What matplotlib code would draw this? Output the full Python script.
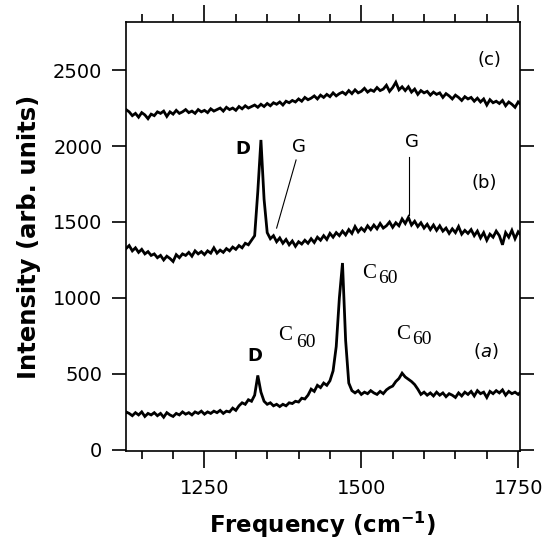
import matplotlib
matplotlib.use("Agg")
import matplotlib.pyplot as plt
import numpy as np
from matplotlib.ticker import MultipleLocator

# Raman shift grid (cm^-1), 5 cm^-1 steps
freq = np.arange(1120, 1756, 5)

# spectrum (c)
spec_c = [2235, 2240, 2225, 2200, 2215, 2190, 2220, 2205, 2180, 2210,
          2200, 2225, 2215, 2230, 2195, 2225, 2210, 2235, 2215, 2225,
          2240, 2220, 2230, 2215, 2240, 2225, 2235, 2220, 2245, 2230,
          2240, 2250, 2230, 2255, 2240, 2250, 2235, 2260, 2245, 2265,
          2250, 2260, 2270, 2255, 2275, 2260, 2280, 2265, 2285, 2275,
          2290, 2270, 2295, 2285, 2300, 2290, 2310, 2295, 2320, 2305,
          2315, 2330, 2310, 2335, 2320, 2340, 2325, 2350, 2330, 2345,
          2355, 2340, 2365, 2345, 2370, 2350, 2360, 2380, 2355, 2370,
          2360, 2385, 2365, 2375, 2400, 2360, 2385, 2420, 2370, 2390,
          2365, 2390, 2355, 2375, 2340, 2365, 2350, 2360, 2335, 2355,
          2340, 2350, 2320, 2345, 2330, 2310, 2335, 2320, 2300, 2325,
          2310, 2320, 2295, 2315, 2290, 2310, 2270, 2305, 2285, 2295,
          2280, 2300, 2265, 2290, 2275, 2255, 2290, 2270]

# spectrum (b)
spec_b = [1340, 1325, 1345, 1310, 1330, 1300, 1320, 1290, 1305, 1280,
          1290, 1265, 1280, 1250, 1275, 1260, 1240, 1285, 1265, 1290,
          1280, 1300, 1275, 1310, 1290, 1305, 1285, 1310, 1295, 1330,
          1295, 1315, 1300, 1325, 1310, 1335, 1320, 1345, 1330, 1360,
          1350, 1380, 1410, 1700, 2040, 1650, 1430, 1390, 1410, 1370,
          1395, 1360, 1385, 1350, 1375, 1340, 1370, 1355, 1380, 1360,
          1390, 1365, 1400, 1380, 1410, 1385, 1425, 1400, 1430, 1410,
          1440, 1415, 1450, 1425, 1470, 1435, 1460, 1440, 1475, 1450,
          1480, 1455, 1490, 1460, 1475, 1500, 1465, 1495, 1475, 1520,
          1490, 1530, 1480, 1505, 1470, 1495, 1460, 1485, 1450, 1480,
          1445, 1475, 1440, 1460, 1425, 1455, 1430, 1470, 1420, 1445,
          1425, 1450, 1410, 1440, 1395, 1430, 1380, 1420, 1400, 1440,
          1410, 1350, 1430, 1400, 1445, 1390, 1435, 1410]

# spectrum (a)
spec_a = [215, 250, 240, 225, 245, 230, 250, 220, 240, 230,
          245, 225, 240, 215, 245, 230, 220, 240, 230, 250,
          235, 245, 230, 250, 240, 255, 235, 250, 240, 255,
          245, 260, 240, 255, 250, 275, 260, 290, 310, 300,
          330, 320, 360, 490, 380, 320, 300, 310, 290, 300,
          285, 300, 290, 310, 305, 320, 315, 340, 335, 360,
          400, 385, 425, 410, 440, 425, 455, 520, 680, 1000,
          1230, 720, 440, 390, 375, 390, 365, 380, 370, 390,
          375, 365, 385, 370, 395, 410, 420, 450, 470, 505,
          480, 465, 450, 430, 400, 365, 380, 360, 375, 355,
          380, 360, 375, 350, 370, 360, 345, 375, 355, 380,
          365, 385, 355, 390, 370, 380, 345, 385, 370, 390,
          375, 395, 360, 385, 370, 380, 365, 385]

fig = plt.figure(figsize=(5.48, 5.42), dpi=100)
ax = fig.add_axes([0.230, 0.168, 0.719, 0.791])

for s in (spec_a, spec_b, spec_c):
    ax.plot(freq, s, color='black', lw=2.0, solid_joinstyle='miter')

ax.set_xlim(1125, 1753)
ax.set_ylim(-7, 2815)

ax.xaxis.set_major_locator(MultipleLocator(250))
ax.xaxis.set_minor_locator(MultipleLocator(50))
ax.yaxis.set_major_locator(MultipleLocator(500))
ax.tick_params(axis='both', which='both', direction='out',
               top=True, right=True, labeltop=False, labelright=False,
               width=1.2, labelsize=14)
ax.tick_params(axis='x', which='major', length=12, pad=8)
ax.tick_params(axis='x', which='minor', length=6)
ax.tick_params(axis='y', which='major', length=10, pad=7)
for sp in ax.spines.values():
    sp.set_linewidth(1.2)

ax.set_ylabel('Intensity (arb. units)', fontsize=17.5, fontweight='bold',
              labelpad=9)
ax.set_xlabel(r'Frequency (cm$^{\mathbf{-1}}$)', fontsize=16.5,
              fontweight='bold', labelpad=9)

lab = dict(fontsize=13, ha='center', va='center')
ax.text(1704, 2566, '(c)', **lab)
ax.text(1696, 1757, '(b)', **lab)
ax.text(1699, 651, '($a$)', **lab)
ax.text(1312, 1980, 'D', fontweight='bold', **lab)
ax.text(1330, 618, 'D', fontweight='bold', **lab)
ax.text(1401, 1993, 'G', **lab)
ax.text(1580, 2026, 'G', **lab)
ax.plot([1396, 1365], [1908, 1460], color='black', lw=0.8)
ax.plot([1576, 1576], [1928, 1546], color='black', lw=0.8)

serif = dict(family='Liberation Serif', ha='center', va='center')
for cx, cy, nx, ny in [(1379, 750, 1412, 710),
                       (1513, 1164, 1543, 1125),
                       (1567, 757, 1597, 724)]:
    ax.text(cx, cy, 'C', fontsize=15, **serif)
    ax.text(nx, ny, '60', fontsize=14, **serif)

fig.savefig('out.png', dpi=100)
